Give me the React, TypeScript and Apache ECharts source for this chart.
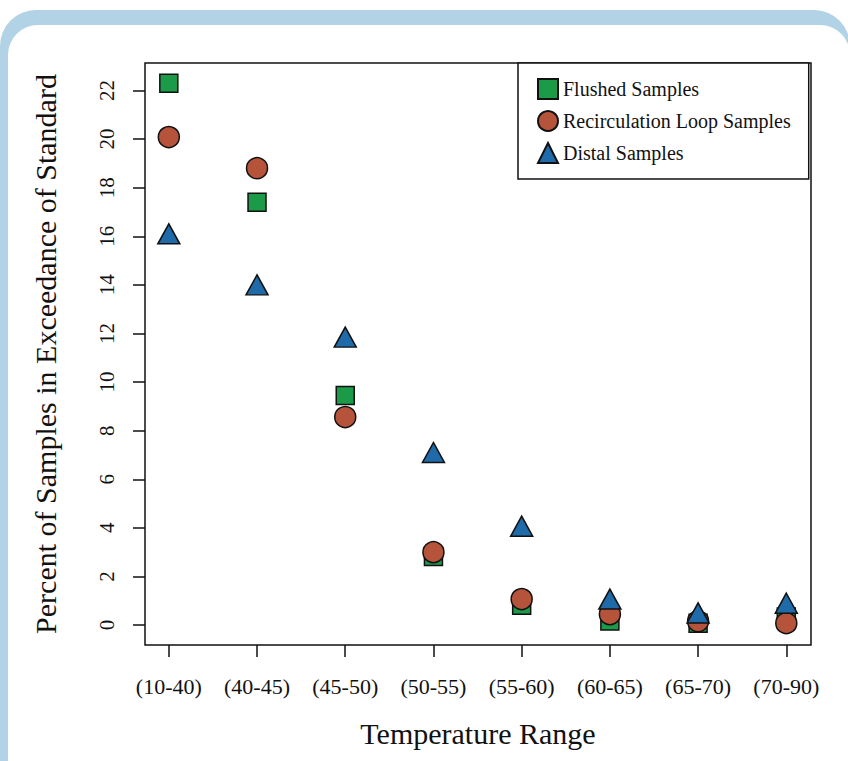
import { useEffect, useRef } from "react";
import * as echarts from "echarts";

const categories = ["(10-40)", "(40-45)", "(45-50)", "(50-55)", "(55-60)", "(60-65)", "(65-70)", "(70-90)"];
const xPositions = [1, 2, 3, 4, 5, 6, 7, 8];
const flushed = [22.3, 17.4, 9.45, 2.82, 0.82, 0.17, 0.08, 0.33];
const recirculation = [20.08, 18.8, 8.56, 3.0, 1.07, 0.45, 0.16, 0.08];
const distal = [16.1, 14.0, 11.85, 7.1, 4.07, 1.07, 0.5, 0.9];
const yTicks = [0, 2, 4, 6, 8, 10, 12, 14, 16, 18, 20, 22];

const seriesNames = ["Flushed Samples", "Recirculation Loop Samples", "Distal Samples"];
const colors = ["#1b9a48", "#b5533b", "#1f6aa8"];

export default function App() {
  const ref = useRef<HTMLDivElement>(null);
  useEffect(() => {
    const chart = echarts.init(ref.current!, null, { renderer: "svg" });
    const font = "'Liberation Serif', 'Times New Roman', serif";
    const pts = (vals: number[]) => vals.map((v, i) => [xPositions[i], v]);
    const ink = "#111";
    const markerBorder = { borderColor: ink, borderWidth: 1.5, opacity: 1 };
    chart.setOption({
      animation: false,
      textStyle: { fontFamily: font, color: ink },
      grid: {
        left: 145,
        right: 37,
        top: 63,
        bottom: 116,
        show: true,
        borderColor: ink,
        borderWidth: 1.5,
        backgroundColor: "transparent",
      },
      legend: {
        orient: "vertical",
        left: 518,
        top: 63,
        padding: [15, 18, 15, 19],
        itemWidth: 20,
        itemHeight: 20,
        itemGap: 10,
        itemTextGap: 12,
        borderColor: ink,
        borderWidth: 1.5,
        backgroundColor: "#fff",
        textStyle: { fontSize: 20, color: ink, fontFamily: font },
        data: seriesNames,
      },
      xAxis: {
        type: "value",
        min: 0.73,
        max: 8.28,
        name: "Temperature Range",
        nameLocation: "middle",
        nameGap: 73,
        nameTextStyle: { fontSize: 30, color: ink, fontFamily: font },
        axisLine: { show: false, onZero: false },
        splitLine: { show: false },
        axisTick: { show: true, length: 12, customValues: xPositions, lineStyle: { color: ink, width: 1.5 } },
        axisLabel: {
          customValues: xPositions,
          formatter: (v: number) => categories[Math.round(v) - 1] ?? "",
          fontSize: 22,
          margin: 30,
          color: ink,
          fontFamily: font,
        },
      },
      yAxis: {
        type: "value",
        min: -0.82,
        max: 23.13,
        name: "Percent of Samples in Exceedance of Standard",
        nameLocation: "middle",
        nameGap: 85,
        nameRotate: 90,
        nameTextStyle: { fontSize: 30, color: ink, fontFamily: font },
        axisLine: { show: false, onZero: false },
        splitLine: { show: false },
        axisTick: { show: true, length: 12, customValues: yTicks, lineStyle: { color: ink, width: 1.5 } },
        axisLabel: {
          customValues: yTicks,
          rotate: 90,
          fontSize: 21,
          margin: 28,
          color: ink,
          fontFamily: font,
        },
      },
      series: [
        {
          name: seriesNames[0],
          type: "scatter",
          symbol: "rect",
          symbolSize: 18,
          itemStyle: { color: colors[0], ...markerBorder },
          data: pts(flushed),
        },
        {
          name: seriesNames[1],
          type: "scatter",
          symbol: "circle",
          symbolSize: 21,
          itemStyle: { color: colors[1], ...markerBorder },
          data: pts(recirculation),
        },
        {
          name: seriesNames[2],
          type: "scatter",
          symbol: "triangle",
          symbolSize: [22, 20],
          itemStyle: { color: colors[2], ...markerBorder },
          data: pts(distal),
        },
      ],
    });
    return () => chart.dispose();
  }, []);

  return (
    <div style={{ position: "fixed", left: 0, top: 0, width: 848, height: 761, overflow: "hidden", background: "#fff" }}>
      <div style={{ position: "absolute", left: 0, top: 10, width: 850, height: 900, borderRadius: 36, background: "#b2d3e5" }} />
      <div style={{ position: "absolute", left: 8, top: 25, width: 842, height: 900, borderRadius: 30, background: "#fff" }} />
      <div ref={ref} style={{ position: "absolute", left: 0, top: 0, width: 848, height: 761 }} />
    </div>
  );
}
